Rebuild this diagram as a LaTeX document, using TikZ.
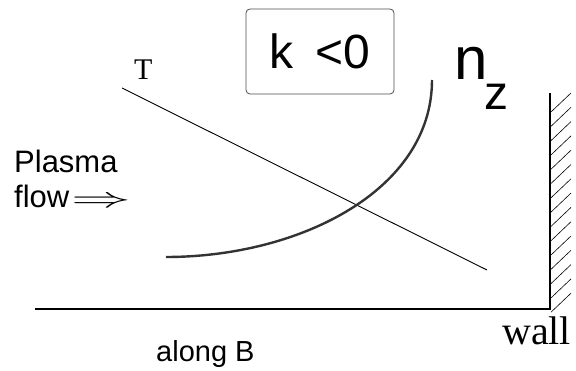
\documentclass[tikz,border=0pt]{standalone}
\usepackage{fontspec}
\setmainfont{Liberation Serif}
\setsansfont{Liberation Sans}
\begin{document}
\begin{tikzpicture}[x=1pt,y=-1pt,
  lbl/.style={inner sep=0pt,anchor=base west},
  sanslbl/.style={lbl,font=\sffamily\fontsize{#1}{#1}\selectfont},
  seriflbl/.style={lbl,font=\rmfamily\fontsize{#1}{#1}\selectfont},
  hatch/.style={line width=0.6pt}]
\useasboundingbox (0,0) rectangle (576,371);
% labels
\node[draw=black!70,rounded corners=4pt,line width=0.8pt,minimum width=148pt,minimum height=85pt,inner sep=0pt,
  font=\sffamily\fontsize{48}{48}\selectfont] (kbox) at (320,51.5) {k\hspace{22pt}<0};
\node[seriflbl=30] (tlabel) at (134,80) {T};
\node[sanslbl=60] (nlabel) at (454,80) {n};
\node[sanslbl=48] (zlabel) at (484,110) {z};
\node[lbl,align=left,font=\sffamily\fontsize{31}{35}\selectfont] (plasma) at (14,208)
  {Plasma\\flow\hspace{2pt}\scalebox{2.4}[1.15]{$\Rightarrow$}};
\node[sanslbl=29] (along) at (156,362) {along B};
\node[seriflbl=40] (walllabel) at (502,345) {wall};
% axis and wall
\coordinate (bleft) at (35,309);
\coordinate (wbot) at (550,309);
\coordinate (wtop) at (550,93);
\draw[line width=1.3pt] (bleft) -- (wbot) -- (wtop);
\foreach \y in {112,126.3,...,313}
  \draw[hatch] (551,\y) -- (571,\y-19);
% T profile
\coordinate (tstart) at (122,88);
\coordinate (tend) at (487,270);
\draw[line width=0.9pt] (tstart) -- (tend);
% n_z profile
\coordinate (nstart) at (166,257);
\coordinate (nend) at (432,80);
\draw[line width=2.4pt,black!80] (nstart) .. controls (300,257) and (432,190) .. (nend);
\end{tikzpicture}
\end{document}
